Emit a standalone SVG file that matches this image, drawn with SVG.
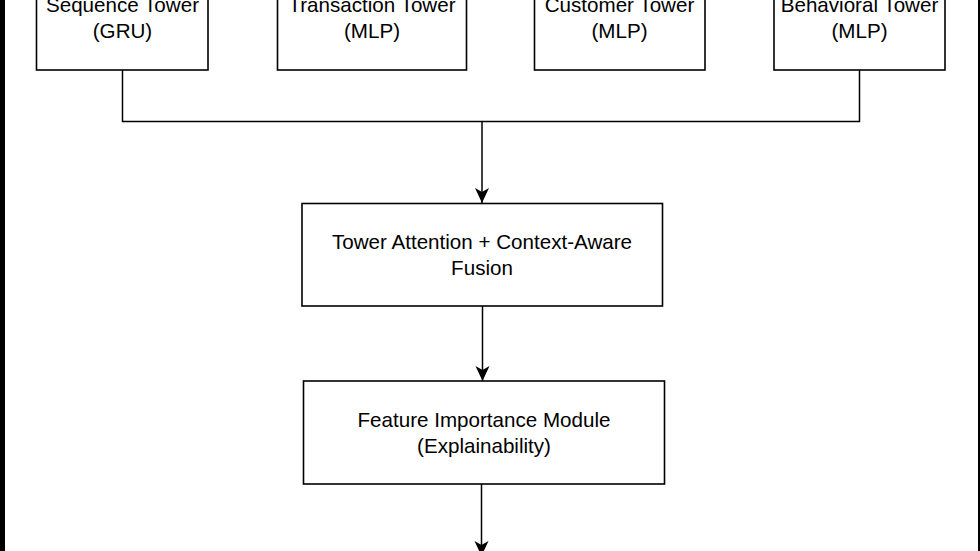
<svg xmlns="http://www.w3.org/2000/svg" width="980" height="551" viewBox="0 0 980 551">
<style>
.box{fill:#ffffff;stroke:#000000;stroke-width:1.6}
.lbl{font-family:"Liberation Sans",Arial,Helvetica,sans-serif;font-size:20.6px;fill:#000000;text-anchor:middle}
.wire{fill:none;stroke:#000000;stroke-width:1.5}
</style>
<defs>
<marker id="arr" markerUnits="userSpaceOnUse" markerWidth="16" markerHeight="16" viewBox="-16 -8 16 16" refX="0" refY="0" orient="auto">
<path d="M0,0 L-15,-7 L-11,0 L-15,7 Z" fill="#000000"/>
</marker>
</defs>
<rect x="0" y="0" width="980" height="551" fill="#ffffff"/>
<rect x="0" y="0" width="5" height="551" fill="#000000"/>
<rect x="978" y="0" width="2" height="551" fill="#000000"/>
<g id="connectors">
<polyline class="wire" points="122.5,70 122.5,121.5 859.5,121.5 859.5,70"/>
<line class="wire" x1="482" y1="121.5" x2="482" y2="203" marker-end="url(#arr)"/>
<line class="wire" x1="482.5" y1="306" x2="482.5" y2="381" marker-end="url(#arr)"/>
<line class="wire" x1="481.5" y1="484" x2="481.5" y2="556" marker-end="url(#arr)"/>
</g>
<g id="sequence-tower">
<rect class="box" x="36.5" y="-33" width="171.5" height="103"/>
<text class="lbl" x="122.5" y="12">Sequence Tower</text>
<text class="lbl" x="122.5" y="38">(GRU)</text>
</g>
<g id="transaction-tower">
<rect class="box" x="277.5" y="-33" width="189" height="103"/>
<text class="lbl" x="372" y="12">Transaction Tower</text>
<text class="lbl" x="372" y="38">(MLP)</text>
</g>
<g id="customer-tower">
<rect class="box" x="534.5" y="-33" width="170.5" height="103"/>
<text class="lbl" x="619.5" y="12">Customer Tower</text>
<text class="lbl" x="619.5" y="38">(MLP)</text>
</g>
<g id="behavioral-tower">
<rect class="box" x="774" y="-33" width="171" height="103"/>
<text class="lbl" x="859.5" y="12">Behavioral Tower</text>
<text class="lbl" x="859.5" y="38">(MLP)</text>
</g>
<g id="tower-attention">
<rect class="box" x="302" y="203.5" width="360.5" height="102.5"/>
<text class="lbl" x="482" y="248.5">Tower Attention + Context-Aware</text>
<text class="lbl" x="482" y="274.5">Fusion</text>
</g>
<g id="feature-importance">
<rect class="box" x="303.5" y="381" width="361" height="103"/>
<text class="lbl" x="484" y="426.5">Feature Importance Module</text>
<text class="lbl" x="484" y="452.5">(Explainability)</text>
</g>
</svg>
